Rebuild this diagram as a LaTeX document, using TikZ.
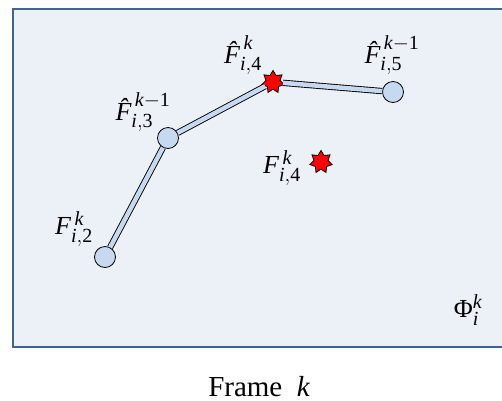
\documentclass[tikz,border=0pt]{standalone}
\usepackage{amsmath}
\usepackage{fontspec}
\setmainfont{Liberation Serif}
\usetikzlibrary{shapes.geometric}

\definecolor{framefill}{RGB}{236,241,248}
\definecolor{frameline}{RGB}{62,100,155}
\definecolor{jointfill}{RGB}{198,217,240}

\DeclareMathSizes{26}{26}{20}{15}
\newcommand{\tit}[1]{\text{\itshape #1}}
\newcommand{\ftF}{\text{\itshape F}}
\newcommand{\htF}{\text{\itshape\^F}}

\tikzset{
  joint/.style={circle,draw,thick,fill=jointfill,minimum size=21pt,inner sep=0pt},
  hitstar/.style={star,star points=7,star point ratio=1.6,draw,thick,fill=red,minimum size=23pt,inner sep=0pt},
  link/.style={double=jointfill,double distance=4.5pt,line width=0.9pt},
  lab/.style={font=\fontsize{26}{30}\selectfont,inner sep=0pt}
}

\begin{document}
\begin{tikzpicture}[x=1pt,y=-1pt]
\clip (0,0) rectangle (502,400);
\draw[frameline,line width=2pt,fill=framefill] (13,9) rectangle (520,347);

\node[joint] (f2) at (105,257) {};
\node[joint] (f3) at (168,138) {};
\node[hitstar] (f4h) at (273,82) {};
\node[joint] (f5) at (393,92) {};
\node[hitstar] (f4) at (321,162) {};

\draw[link] (f2) -- (f3);
\draw[link] (f3) -- (f4h);
\draw[link] (f4h) -- (f5);

\node[lab] (lf4h) at (243,55) {$\htF^{\,\tit{k}}_{\tit{i},\text{4}}$};
\node[lab] (lf5) at (392,55) {$\htF^{\,\tit{k}-\text{1}}_{\tit{i},\text{5}}$};
\node[lab] (lf3) at (143,112) {$\htF^{\,\tit{k}-\text{1}}_{\tit{i},\text{3}}$};
\node[lab] (lf4) at (282,168) {$\ftF^{\,\tit{k}}_{\tit{i},\text{4}}$};
\node[lab] (lf2) at (74,229) {$\ftF^{\,\tit{k}}_{\tit{i},\text{2}}$};
\node[lab] (lphi) at (468,310) {$\text{Φ}^{\tit{k}}_{\tit{i}}$};
\node[font=\fontsize{29}{34}\selectfont,inner sep=0pt,anchor=base] (title) at (259,396) {Frame\ \ \tit{k}};
\end{tikzpicture}
\end{document}
